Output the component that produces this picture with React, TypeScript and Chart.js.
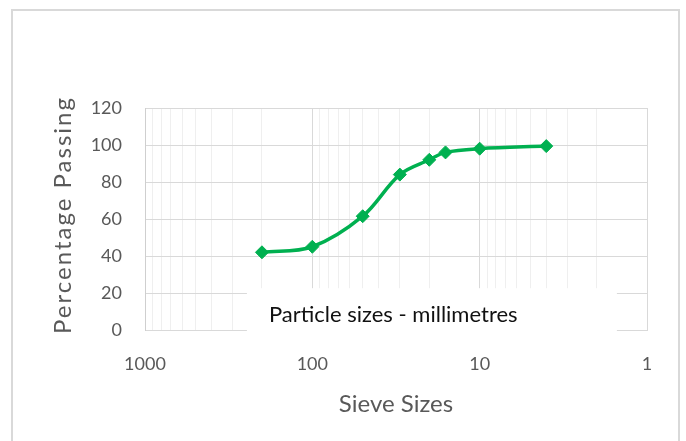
import React, { useEffect, useRef } from "react";
import { Chart, registerables } from "chart.js";

Chart.register(...registerables);

// ---- data ----
const sieveSizes = [200, 100, 50, 30, 20, 16, 10, 4];
const percentPassing = [42, 45, 61.5, 84, 92, 96, 98, 99.4];
const xTickLabels = [1000, 100, 10, 1];
const xDecades = [1, 10, 100];
const yMin = 0;
const yMax = 120;
const yStep = 20;
const yTitle = "Percentage Passing";
const xTitle = "Sieve Sizes";
const noteText = "Particle sizes - millimetres";

const FONT = "Lato, Calibri, Carlito, sans-serif";
const TEXT = "#595959";
const GRID_MAJOR = "#d9d9d9";
const GRID_MINOR = "#efefef";
const LINE = "#00b050";

const notePlugin = {
  id: "noteBox",
  afterDraw(chart: any) {
    const { ctx, chartArea, scales } = chart;
    const w = chartArea.right - chartArea.left;
    const left = chartArea.left + w * 0.203;
    const right = chartArea.left + w * 0.94;
    const top = scales.y.getPixelForValue(22.6);
    const bottom = chartArea.bottom + 8;
    ctx.save();
    ctx.fillStyle = "#ffffff";
    ctx.fillRect(left, top, right - left, bottom - top);
    ctx.font = `22px ${FONT}`;
    ctx.fillStyle = "#111111";
    ctx.textAlign = "left";
    ctx.textBaseline = "middle";
    ctx.fillText(noteText, left + 22, top + 27);
    ctx.restore();
  },
};

const yTitlePlugin = {
  id: "yTitle",
  afterDraw(chart: any) {
    const { ctx, chartArea } = chart;
    ctx.save();
    ctx.translate(63, (chartArea.top + chartArea.bottom) / 2 - 4);
    ctx.rotate(-Math.PI / 2);
    ctx.font = `24px ${FONT}`;
    try {
      (ctx as any).letterSpacing = "2px";
    } catch (e) {}
    ctx.fillStyle = TEXT;
    ctx.textAlign = "center";
    ctx.textBaseline = "middle";
    ctx.fillText(yTitle, 0, 0);
    ctx.restore();
  },
};

export default function App() {
  const canvasRef = useRef<HTMLCanvasElement | null>(null);

  useEffect(() => {
    document.body.style.margin = "0";
    const canvas = canvasRef.current;
    if (!canvas) return;
    const chart = new Chart(canvas, {
      type: "line",
      data: {
        datasets: [
          {
            data: sieveSizes.map((x, i) => ({ x, y: percentPassing[i] })),
            borderColor: LINE,
            backgroundColor: LINE,
            borderWidth: 3.5,
            tension: 0.35,
            pointStyle: "rectRot",
            pointRadius: 6.5,
            pointBorderWidth: 1,
            pointBackgroundColor: LINE,
            pointBorderColor: LINE,
            fill: false,
          },
        ],
      },
      options: {
        animation: false,
        responsive: false,
        maintainAspectRatio: false,
        layout: { padding: { left: 0, right: 39, top: 108, bottom: 0 } },
        plugins: {
          legend: { display: false },
          tooltip: { enabled: false },
        },
        scales: {
          x: {
            type: "logarithmic",
            reverse: true,
            min: 1,
            max: 1000,
            afterBuildTicks(scale: any) {
              const vals: number[] = [];
              xDecades.forEach((d) => {
                for (let m = 1; m < 10; m++) vals.push(d * m);
              });
              vals.push(1000);
              scale.ticks = vals.map((v) => ({ value: v, major: xTickLabels.includes(v) }));
            },
            afterFit(scale: any) {
              scale.height = 111;
            },
            grid: {
              drawTicks: false,
              color: (c: any) =>
                c.tick && xTickLabels.includes(c.tick.value) ? GRID_MAJOR : GRID_MINOR,
              lineWidth: 1,
            },
            border: { color: GRID_MAJOR, width: 1 },
            ticks: {
              autoSkip: false,
              maxRotation: 0,
              minRotation: 0,
              padding: 23,
              color: TEXT,
              font: { family: FONT, size: 18 },
              callback: (v: any) => (xTickLabels.includes(Number(v)) ? String(v) : ""),
            },
            title: {
              display: true,
              text: xTitle,
              color: TEXT,
              font: { family: FONT, size: 24 },
              padding: { top: 0, bottom: 22.6 },
            },
          },
          y: {
            type: "linear",
            min: yMin,
            max: yMax,
            afterFit(scale: any) {
              scale.width = 145;
            },
            grid: { drawTicks: false, color: GRID_MAJOR, lineWidth: 1 },
            border: { color: "#cfcfcf", width: 1 },
            ticks: {
              stepSize: yStep,
              padding: 23,
              color: TEXT,
              font: { family: FONT, size: 18 },
            },
            title: { display: false },
          },
        },
      },
      plugins: [notePlugin, yTitlePlugin],
    } as any);
    return () => chart.destroy();
  }, []);

  return (
    <div style={{ position: "relative", width: 686, height: 441, overflow: "hidden", background: "#fff" }}>
      <div
        style={{
          position: "absolute",
          left: 11,
          top: 9,
          width: 669,
          height: 460,
          border: "2px solid #d9d9d9",
          boxSizing: "border-box",
        }}
      />
      <canvas
        ref={canvasRef}
        width={686}
        height={441}
        style={{ position: "absolute", left: 0, top: 0, width: 686, height: 441 }}
      />
    </div>
  );
}
